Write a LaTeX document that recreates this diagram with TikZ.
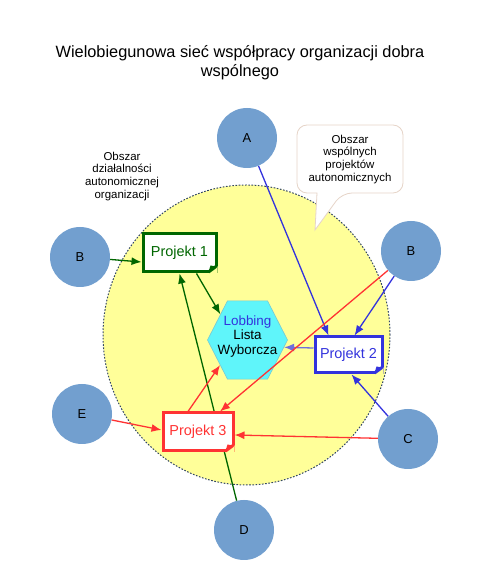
\documentclass[tikz,border=0pt]{standalone}
\usepackage{fontspec}
\setmainfont{Liberation Sans}
\usetikzlibrary{arrows.meta,shapes.geometric}
\definecolor{cgreen}{RGB}{0,102,0}
\definecolor{cblue}{RGB}{51,51,221}
\definecolor{cpurple}{RGB}{110,110,220}
\definecolor{cred}{RGB}{255,51,51}
\definecolor{cball}{RGB}{114,159,207}
\definecolor{cyell}{RGB}{255,255,153}
\definecolor{ccyan}{RGB}{95,245,250}
\definecolor{chexline}{RGB}{120,200,210}
\definecolor{crim}{RGB}{50,70,100}
\definecolor{cbubble}{RGB}{230,212,200}
\pgfdeclarelayer{bg}
\pgfdeclarelayer{mid}
\pgfsetlayers{bg,mid,main}
\begin{document}
\begin{tikzpicture}[>={Latex[length=10bp,width=8bp]},line join=bevel,
  ball/.style={circle,fill=cball,minimum size=60bp,inner sep=0pt,font=\fontsize{13}{15}\selectfont},
  proj/.style={draw,fill=white,line width=3bp,line join=miter,inner sep=0pt,font=\fontsize{14.5}{16}\selectfont},
  note/.style={align=center,font=\fontsize{11.5}{13}\selectfont},
  link/.style={->,line width=1.3bp}]
\useasboundingbox (0bp,0bp) rectangle (489bp,583bp);
%%
\begin{pgfonlayer}{bg}
  \filldraw [fill=cyell,draw=crim,line width=1bp,dash pattern=on 1.6bp off 1.6bp] (246.5bp,248.0bp) ellipse [x radius=143.5bp,y radius=150.0bp];
  \filldraw [draw=cbubble,fill=white,line width=0.8bp] (315.0bp,353.0bp) -- (317.0bp,390.0bp) [rounded corners=10bp] -- (297.0bp,390.0bp) -- (297.0bp,458.0bp) -- (403.0bp,458.0bp) -- (403.0bp,390.0bp) -- (342.0bp,390.0bp) [sharp corners] -- cycle;
  \node (node_lob) at (247.5bp,243.0bp) [regular polygon,regular polygon sides=6,minimum size=80bp,inner sep=0pt,fill=ccyan,draw=chexline,line width=0.6bp,yscale=1.13,transform shape] {};
  \node (txt_lob) at (247.5bp,246.5bp) [align=center,font=\fontsize{13.5}{14.5}\selectfont] {\textcolor{cblue}{Lobbing}\\Lista\\Wyborcza};
\end{pgfonlayer}
%%
\node (title) at (240.0bp,520.5bp) [align=center,font=\fontsize{16.4}{19}\selectfont] {Wielobiegunowa sieć współpracy organizacji dobra\\wspólnego};
\node (note_own) at (122.0bp,406.5bp) [note] {Obszar\\działalności\\autonomicznej\\organizacji};
\node (note_common) at (350.0bp,423.5bp) [note] {Obszar\\wspólnych\\projektów\\autonomicznych};
%%
\node (node_a) at (247.0bp,445.0bp) [ball] {A};
\node (node_b1) at (80.0bp,326.0bp) [ball] {B};
\node (node_b2) at (411.0bp,332.0bp) [ball] {B};
\node (node_e) at (82.0bp,169.0bp) [ball] {E};
\node (node_c) at (408.0bp,144.0bp) [ball] {C};
\node (node_d) at (244.0bp,53.0bp) [ball] {D};
%%
\node (node_p1) at (179.5bp,330.0bp) [proj,draw=cgreen,text=cgreen,minimum width=73bp,minimum height=38bp] {Projekt 1};
\node (node_p2) at (348.5bp,228.0bp) [proj,draw=cblue,text=cblue,minimum width=67bp,minimum height=36bp] {Projekt 2};
\node (node_p3) at (198.0bp,151.0bp) [proj,draw=cred,text=cred,minimum width=70bp,minimum height=38bp] {Projekt 3};
\foreach \n/\c in {node_p1/cgreen,node_p2/cblue,node_p3/cred} {
  \fill [cyell] ([xshift=-9bp]\n.south east) -- (\n.south east) -- ([yshift=7bp]\n.south east) -- cycle;
  \draw [\c,line width=3bp] ([xshift=-9bp,yshift=1.5bp]\n.south east) -- ([xshift=-1.5bp,yshift=7bp]\n.south east);
  \fill [\c] ([xshift=-9bp,yshift=1.5bp]\n.south east) -- ([xshift=-1.5bp,yshift=7bp]\n.south east) -- ([xshift=-7bp,yshift=8bp]\n.south east) -- cycle;
}
%%
\begin{pgfonlayer}{mid}
  \draw [cgreen,link] (node_b1) -- ([yshift=-9bp]node_p1.west);
  \draw [cgreen,link] ([xshift=17bp]node_p1.south) -- (node_lob.140);
  \draw [cgreen,link] (node_d) -- (node_p1.south);
  \draw [cblue,link] (node_a) -- ([xshift=-20bp]node_p2.north);
  \draw [cblue,link] (node_b2) -- ([xshift=6bp]node_p2.north);
  \draw [cblue,link] (node_c) -- ([xshift=3bp]node_p2.south);
  \draw [cpurple,link] ([yshift=7bp]node_p2.west) -- (node_lob.-10);
  \draw [cred,link] (node_e) -- ([yshift=2bp]node_p3.west);
  \draw [cred,link] (node_c) -- ([yshift=-3bp]node_p3.east);
  \draw [cred,link] ([xshift=-10bp]node_p3.north) -- (node_lob.219);
  \draw [cred,link] (node_b2) -- ([xshift=22bp]node_p3.north);
\end{pgfonlayer}
%
\end{tikzpicture}
\end{document}
